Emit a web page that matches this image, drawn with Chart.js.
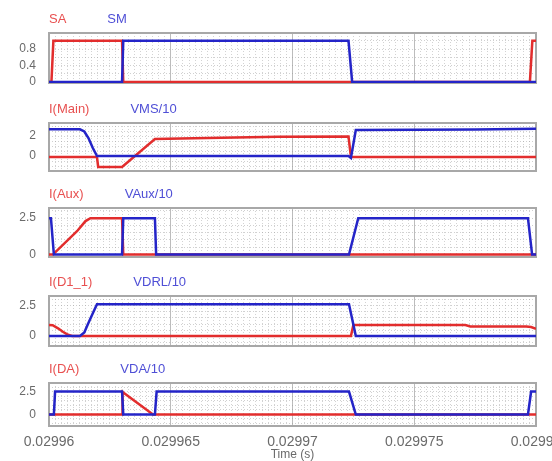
<!DOCTYPE html>
<html><head><meta charset="utf-8">
<script src="https://cdn.jsdelivr.net/npm/chart.js@4.4.0/dist/chart.umd.min.js"></script>
<style>
html,body{margin:0;padding:0;background:#fff;width:552px;height:461px;overflow:hidden;position:relative;}
.box{position:absolute;left:0;width:575px;}
canvas{display:block;}
</style></head><body>
<div class="box" id="b1"><canvas id="c1"></canvas></div>
<div class="box" id="b2"><canvas id="c2"></canvas></div>
<div class="box" id="b3"><canvas id="c3"></canvas></div>
<div class="box" id="b4"><canvas id="c4"></canvas></div>
<div class="box" id="b5"><canvas id="c5"></canvas></div>
<script>
// ---- time axis (µs after 0.02996 s) ----
const xMin = 0, xMax = 20;
const xTickValues = [0, 5, 10, 15, 20];
const xTickLabels = ["0.02996", "0.029965", "0.02997", "0.029975", "0.02998"];
const xGridValues = Array.from({length: 81}, (_, i) => i * 0.25);
const xTitle = "Time (s)";

// ---- panel 1: SA / SM ----
const p1Names = ["SA", "SM"];
const SA_t = [0, 0.1, 0.18, 3.0, 3.05, 19.75, 19.85, 20];
const SA_v = [0, 0, 1, 1, 0, 0, 1, 1];
const SM_t = [0, 3.0, 3.05, 12.3, 12.45, 20];
const SM_v = [0, 0, 1, 1, 0, 0];
const p1YTicks = [0, 0.4, 0.8];
const p1YLabels = ["0", "0.4", "0.8"];
const p1YGrid = [0, 0.2, 0.4, 0.6, 0.8, 1.0];

// ---- panel 2: I(Main) / VMS/10 ----
const p2Names = ["I(Main)", "VMS/10"];
const IMain_t = [0, 1.97, 2.02, 3.0, 4.35, 6.5, 9.4, 12.3, 12.4, 20];
const IMain_v = [-0.1, -0.1, -1.1, -1.1, 1.7, 1.8, 1.93, 1.95, -0.1, -0.1];
const VMS_t = [0, 1.27, 1.45, 1.62, 1.8, 1.97, 12.3, 12.4, 12.6, 17.5, 20];
const VMS_v = [2.67, 2.67, 2.45, 1.8, 0.8, 0, 0, -0.2, 2.6, 2.65, 2.72];
const p2YTicks = [0, 2];
const p2YLabels = ["0", "2"];
const p2YGrid = [-1, -0.5, 0, 0.5, 1, 1.5, 2, 2.5, 3];

// ---- panel 3: I(Aux) / VAux/10 ----
const p3Names = ["I(Aux)", "VAux/10"];
const IAux_t = [0, 0.16, 1.15, 1.5, 1.7, 3.0, 3.05, 20];
const IAux_v = [0, 0, 1.6, 2.3, 2.5, 2.5, 0, 0];
const VAux_t = [0, 0.08, 0.2, 3.0, 3.05, 4.35, 4.4, 12.32, 12.7, 19.67, 19.84, 20];
const VAux_v = [2.5, 2.5, 0, 0, 2.5, 2.5, 0, 0, 2.5, 2.5, 0, 0];
const p3YTicks = [0, 2.5];
const p3YLabels = ["0", "2.5"];
const p3YGrid = [0, 0.5, 1, 1.5, 2, 2.5, 3];

// ---- panel 4: I(D1_1) / VDRL/10 ----
const p4Names = ["I(D1_1)", "VDRL/10"];
const ID1_t = [0, 0.15, 0.37, 0.57, 0.78, 0.95, 12.4, 12.5, 17.1, 17.3, 19.6, 19.8, 20];
const ID1_v = [0.92, 0.9, 0.64, 0.36, 0.1, 0, 0, 0.92, 0.92, 0.8, 0.8, 0.75, 0.6];
const VDRL_t = [0, 1.27, 1.45, 1.6, 1.8, 1.97, 12.32, 12.6, 20];
const VDRL_v = [0, 0, 0.3, 1.0, 1.9, 2.64, 2.64, 0, 0];
const p4YTicks = [0, 2.5];
const p4YLabels = ["0", "2.5"];
const p4YGrid = [-0.5, 0, 0.5, 1, 1.5, 2, 2.5, 3];

// ---- panel 5: I(DA) / VDA/10 ----
const p5Names = ["I(DA)", "VDA/10"];
const IDA_t = [0, 3.0, 3.02, 4.27, 20];
const IDA_v = [0, 0, 2.5, 0, 0];
const VDA_t = [0, 0.2, 0.25, 3.0, 3.05, 4.35, 4.42, 12.32, 12.6, 19.67, 19.8, 20];
const VDA_v = [0, 0, 2.55, 2.55, 0, 0, 2.55, 2.55, 0, 0, 2.55, 2.55];
const p5YTicks = [0, 2.5];
const p5YLabels = ["0", "2.5"];
const p5YGrid = [-1, -0.5, 0, 0.5, 1, 1.5, 2, 2.5, 3];

// ---- styling ----
const RED = '#e22d2d', BLUE = '#2424c8';
const RED_T = '#e85050', BLUE_T = '#4f4fd6';
const FONT = '"Liberation Sans", Arial, sans-serif';

const pts = (ts, vs) => ts.map((t, i) => ({x: t, y: vs[i]}));
const near = (a, b) => Math.abs(a - b) < 1e-6;
const noPad = s => { s.paddingTop = 0; s.paddingBottom = 0; s.paddingLeft = 0; s.paddingRight = 0; };

const framePlugin = {
  id: 'frame',
  beforeDatasetsDraw(chart) {
    const {ctx, chartArea: a} = chart;
    ctx.save();
    ctx.strokeStyle = '#a8a8a8';
    ctx.lineWidth = 2;
    ctx.strokeRect(a.left, a.top, a.right - a.left, a.bottom - a.top);
    ctx.restore();
  }
};
const namesPlugin = {
  id: 'names',
  afterDraw(chart, args, o) {
    const {ctx, chartArea: a} = chart;
    ctx.save();
    ctx.font = '13px ' + FONT;
    ctx.textBaseline = 'middle';
    ctx.textAlign = 'left';
    const y = a.top - 14;
    ctx.fillStyle = RED_T;
    ctx.fillText(o.names[0], a.left, y);
    const w = ctx.measureText(o.names[0]).width;
    ctx.fillStyle = BLUE_T;
    ctx.fillText(o.names[1], a.left + w + 41, y);
    ctx.restore();
  }
};

function makePlot(n, frameTop, frameBottom, names, red, blue, yMin, yMax, yTicks, yLabels, yGrid, showX) {
  const padTop = 22, padBot = showX ? 0 : 8, xH = showX ? 35 : 0;
  const h = (frameBottom - frameTop) + padTop + padBot + xH;
  const box = document.getElementById('b' + n);
  box.style.top = (frameTop - padTop) + 'px';
  box.style.height = h + 'px';
  const cv = document.getElementById('c' + n);
  cv.width = 575; cv.height = h;
  cv.style.width = '575px'; cv.style.height = h + 'px';
  new Chart(cv, {
    type: 'line',
    data: {
      datasets: [
        {data: red, borderColor: RED, borderWidth: 2.5, pointRadius: 0, tension: 0, order: 1, fill: false},
        {data: blue, borderColor: BLUE, borderWidth: 2.5, pointRadius: 0, tension: 0, order: 0, fill: false}
      ]
    },
    options: {
      responsive: false, animation: false, devicePixelRatio: 1,
      layout: {padding: {top: padTop, left: 0, right: 39, bottom: padBot}},
      plugins: {legend: {display: false}, tooltip: {enabled: false}, names: {names}},
      scales: {
        x: {
          type: 'linear', min: xMin, max: xMax,
          afterBuildTicks: s => { s.ticks = xGridValues.map(v => ({value: v})); },
          afterFit: s => { s.height = xH; noPad(s); },
          ticks: {
            display: showX, autoSkip: false, maxRotation: 0, minRotation: 0, padding: 8,
            color: '#6a6a6a', font: {family: FONT, size: 14},
            callback: v => { const i = xTickValues.findIndex(t => near(t, v)); return i >= 0 ? xTickLabels[i] : ''; }
          },
          grid: {
            drawTicks: false, lineWidth: 1,
            color: c => (c.tick && xTickValues.some(t => near(t, c.tick.value))) ? 'rgba(165,165,165,0.75)' : 'rgba(150,150,150,0.42)'
          },
          border: {display: false, dash: c => (c.tick && !xTickValues.some(t => near(t, c.tick.value))) ? [1, 2] : []},
          title: {display: showX, text: xTitle, color: '#6a6a6a', font: {family: FONT, size: 12, lineHeight: 1}, padding: {top: 0, bottom: 0}}
        },
        y: {
          type: 'linear', min: yMin, max: yMax,
          afterBuildTicks: s => { s.ticks = yGrid.map(v => ({value: v})); },
          afterFit: s => { s.width = 49; noPad(s); },
          ticks: {
            autoSkip: false, padding: 13, color: '#6a6a6a', font: {family: FONT, size: 12},
            callback: v => { const i = yTicks.findIndex(t => near(t, v)); return i >= 0 ? yLabels[i] : ''; }
          },
          grid: {drawTicks: false, lineWidth: 1, color: 'rgba(150,150,150,0.45)'},
          border: {display: false, dash: c => c.tick ? [1, 2] : []}
        }
      }
    },
    plugins: [framePlugin, namesPlugin]
  });
}

makePlot(1, 33, 83, p1Names, pts(SA_t, SA_v), pts(SM_t, SM_v), -0.024, 1.19, p1YTicks, p1YLabels, p1YGrid, false);
makePlot(2, 123, 171, p2Names, pts(IMain_t, IMain_v), pts(VMS_t, VMS_v), -1.5, 3.3, p2YTicks, p2YLabels, p2YGrid, false);
makePlot(3, 208, 257, p3Names, pts(IAux_t, IAux_v), pts(VAux_t, VAux_v), -0.17, 3.2, p3YTicks, p3YLabels, p3YGrid, false);
makePlot(4, 296, 346, p4Names, pts(ID1_t, ID1_v), pts(VDRL_t, VDRL_v), -0.83, 3.33, p4YTicks, p4YLabels, p4YGrid, false);
makePlot(5, 383, 426, p5Names, pts(IDA_t, IDA_v), pts(VDA_t, VDA_v), -1.28, 3.5, p5YTicks, p5YLabels, p5YGrid, true);
</script>
</body></html>
